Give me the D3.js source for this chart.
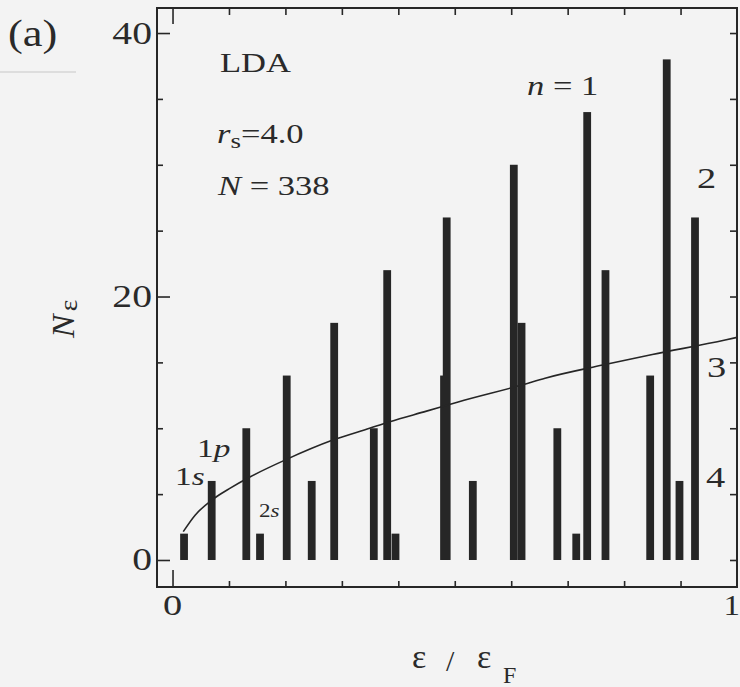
<!DOCTYPE html>
<html>
<head>
<meta charset="utf-8">
<script src="https://cdn.jsdelivr.net/npm/d3@7"></script>
<style>
  html, body { margin: 0; padding: 0; background: #f3f3f3; }
  svg { display: block; }
  text { font-family: "Liberation Serif", "Times New Roman", serif; fill: #2a2a2a; }
</style>
</head>
<body>
<script>
// ---- data ----
const shellNames = ["1s","1p","1d","2s","1f","2p","1g","2d","1h","3s","2f","1i","3p","2g","1j","3d","4s","1k","2h","3f","1l","4p","2i"];
const shellEnergy = [0.0204,0.0694,0.1307,0.155,0.2023,0.2466,0.2864,0.3566,0.3803,0.395,0.481,0.4857,0.532,0.6183,0.6046,0.6817,0.7152,0.7346,0.767,0.8462,0.8755,0.8981,0.9256];
const shellDegeneracy = [2,6,10,2,14,6,18,10,22,2,14,26,6,18,30,10,2,34,22,14,38,6,26];
const barWidth = 0.0138; // in units of ε/εF

const curveX = [0.019,0.04,0.071,0.10,0.137,0.20,0.284,0.349,0.385,0.45,0.506,0.62,0.66,0.762,0.85,0.979,1.0];
const curveY = [2.15,3.4,4.6,5.4,6.3,7.6,9.1,10.0,10.5,11.3,12.0,13.3,13.8,14.8,15.6,16.7,16.9];

const xTickValues = [0,0.1,0.2,0.3,0.4,0.5,0.6,0.7,0.8,0.9];
const xTickLabels = [0, 1];
const yTickValues = [0,5,10,15,20,25,30,35,40];
const yTickLabels = [0, 20, 40];

// ---- layout ----
const W = 740, H = 687;
const frame = {left: 157, right: 737, top: 8, bottom: 587};
const SX = 1.28; // horizontal stretch of scanned lettering
const ink = "#262626";

const svg = d3.select("body").append("svg").attr("width", W).attr("height", H);
svg.append("rect").attr("width", W).attr("height", H).attr("fill", "#f3f3f3");

const x = d3.scaleLinear().domain([-0.0275, 1.0]).range([frame.left, frame.right]);
const y = d3.scaleLinear().domain([-2.05, 41.9]).range([frame.bottom, frame.top]);

// faint rule under (a)
svg.append("line").attr("x1", 0).attr("x2", 76).attr("y1", 72).attr("y2", 72)
  .attr("stroke", "#d6d6d6").attr("stroke-width", 1.5);

function label(px, py, size, opts = {}) {
  const t = svg.append("text")
    .attr("transform", `translate(${px},${py}) ${opts.rotate ? "rotate(" + opts.rotate + ")" : ""} scale(${opts.sx || SX},1)`)
    .attr("font-size", size)
    .attr("text-anchor", opts.anchor || "start");
  if (opts.italic) t.attr("font-style", "italic");
  return t;
}

// bars
svg.append("g").selectAll("rect")
  .data(shellEnergy.map((e, i) => ({e, n: shellDegeneracy[i], name: shellNames[i]})))
  .join("rect")
  .attr("x", d => x(d.e - barWidth / 2))
  .attr("width", d => x(d.e + barWidth / 2) - x(d.e - barWidth / 2))
  .attr("y", d => y(d.n))
  .attr("height", d => y(0) - y(d.n))
  .attr("fill", ink);

// smooth curve
svg.append("path")
  .datum(curveX.map((v, i) => [v, curveY[i]]))
  .attr("fill", "none").attr("stroke", ink).attr("stroke-width", 1.6)
  .attr("d", d3.line().x(d => x(d[0])).y(d => y(d[1])).curve(d3.curveMonotoneX));

// axes (inward ticks)
function styleAxis(g) {
  g.select(".domain").remove();
  g.selectAll(".tick line").attr("stroke", ink).attr("stroke-width", 1.6);
  g.selectAll(".tick text").remove();
}
svg.append("g").attr("transform", `translate(0,${frame.bottom})`)
  .call(d3.axisTop(x).tickValues(xTickValues).tickSize(6).tickFormat(""))
  .call(styleAxis)
  .selectAll(".tick line").filter(d => d === 0).attr("y2", -17);
svg.append("g").attr("transform", `translate(0,${frame.top})`)
  .call(d3.axisBottom(x).tickValues(xTickValues).tickSize(7).tickFormat(""))
  .call(styleAxis)
  .selectAll(".tick line").filter(d => d === 0).attr("y2", 16);
svg.append("g").attr("transform", `translate(${frame.left},0)`)
  .call(d3.axisRight(y).tickValues(yTickValues).tickSize(6).tickFormat(""))
  .call(styleAxis)
  .selectAll(".tick line").filter(d => d % 20 === 0).attr("x2", 13);
svg.append("g").attr("transform", `translate(${frame.right},0)`)
  .call(d3.axisLeft(y).tickValues(yTickValues).tickSize(7).tickFormat(""))
  .call(styleAxis);

// frame
svg.append("rect")
  .attr("x", frame.left).attr("y", frame.top)
  .attr("width", frame.right - frame.left).attr("height", frame.bottom - frame.top)
  .attr("fill", "none").attr("stroke", ink).attr("stroke-width", 2);

// tick labels
xTickLabels.forEach(v => {
  if (v === 1) label(740, 615, 30, {anchor: "end", sx: 1.1}).text(v);
  else label(x(v), 615, 30, {anchor: "middle"}).text(v);
});
yTickLabels.forEach(v => {
  label(152, y(v) + 10.5, 31, {anchor: "end"}).text(v);
});

// panel label
label(8, 46, 37, {sx: 1.2}).text("(a)");

// annotations
label(220, 72, 27).text("LDA");
{
  const t = label(217, 143, 27);
  t.append("tspan").attr("font-style", "italic").text("r");
  t.append("tspan").attr("font-size", 21).attr("dy", 5).text("s");
  t.append("tspan").attr("dy", -5).text("=4.0");
}
{
  const t = label(218, 195, 27);
  t.append("tspan").attr("font-style", "italic").text("N");
  t.append("tspan").text(" = 338");
}
{
  const t = label(527, 95, 27);
  t.append("tspan").attr("font-style", "italic").text("n");
  t.append("tspan").text(" = 1");
}
label(697, 188, 30).text("2");
label(707, 377, 30).text("3");
label(706, 487, 30).text("4");

// shell labels
{
  const t = label(175, 485, 26);
  t.append("tspan").text("1");
  t.append("tspan").attr("font-style", "italic").text("s");
}
{
  const t = label(197, 457, 26);
  t.append("tspan").text("1");
  t.append("tspan").attr("font-style", "italic").text("p");
}
{
  const t = label(259, 517, 18);
  t.append("tspan").text("2");
  t.append("tspan").attr("font-style", "italic").text("s");
}

// x axis title: ε / ε_F
label(412, 668, 34, {sx: 1}).text("ε");
label(446, 671, 30, {sx: 1}).text("/");
label(477, 668, 34, {sx: 1}).text("ε");
label(503, 683, 24, {sx: 1}).text("F");

// y axis title: N_ε (rotated)
{
  const t = label(74, 338, 32, {rotate: -90, sx: 1.1});
  t.append("tspan").attr("font-style", "italic").text("N");
  t.append("tspan").attr("font-size", 25).attr("dy", 3).attr("dx", 3).text("ε");
}
</script>
</body>
</html>
